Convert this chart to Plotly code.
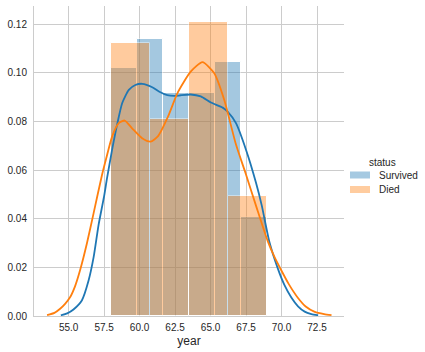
import plotly.graph_objects as go

# Histogram bins and densities
surv_edges = [58.0, 59.833, 61.667, 63.5, 65.333, 67.167, 69.0]
surv_density = [0.1019, 0.1139, 0.0919, 0.0919, 0.1044, 0.0409]
died_edges = [58.0, 60.75, 63.5, 66.25, 69.0]
died_density = [0.1122, 0.0811, 0.1211, 0.0493]

# KDE curves
surv_kde_x = [54.45, 54.9, 55.34, 55.93, 56.4, 56.76, 57.11, 57.5, 57.7, 58.06, 58.41, 58.77,
              59.24, 59.7, 60.18, 60.89, 61.36, 61.95, 62.5, 62.9, 63.6, 64.31, 65.02, 65.85,
              66.2, 66.79, 67.5, 68.21, 68.6, 69.15, 69.74, 70.2, 70.69, 71.16, 71.63, 72.1, 72.58]
surv_kde_y = [0.0003, 0.0011, 0.0027, 0.0064, 0.0145, 0.0242, 0.0375, 0.0493, 0.0565, 0.0683, 0.0786, 0.0875,
              0.093, 0.095, 0.0955, 0.0941, 0.0923, 0.0908, 0.0905, 0.0908, 0.0911, 0.0903, 0.0878, 0.0857,
              0.0841, 0.0793, 0.0683, 0.0546, 0.0456, 0.0303, 0.0195, 0.0128, 0.0076, 0.004, 0.0018, 0.0008, 0.0003]
died_kde_x = [53.48, 54.0, 54.4, 54.75, 55.11, 55.45, 55.81, 56.29, 56.76, 57.35, 57.7, 58.06,
              58.53, 58.95, 59.47, 60.18, 60.77, 61.3, 62.0, 62.66, 63.6, 64.43, 65.25, 65.96,
              66.79, 67.45, 68.21, 69.04, 69.5, 69.98, 70.5, 71.16, 71.7, 72.34, 73.0, 73.52]
died_kde_y = [0.0004, 0.0013, 0.003, 0.005, 0.0078, 0.0122, 0.0189, 0.0299, 0.0423, 0.058, 0.066, 0.0738,
              0.0793, 0.0804, 0.0772, 0.0731, 0.0717, 0.074, 0.082, 0.0916, 0.1005, 0.1044, 0.0999, 0.0889,
              0.0705, 0.059, 0.0452, 0.0306, 0.0243, 0.0188, 0.0132, 0.0074, 0.0039, 0.0017, 0.0008, 0.0004]

x_ticks = [55.0, 57.5, 60.0, 62.5, 65.0, 67.5, 70.0, 72.5]
y_ticks = [0.00, 0.02, 0.04, 0.06, 0.08, 0.10, 0.12]

legend_title = "status"
series_names = ["Survived", "Died"]

BLUE = "#1f77b4"
ORANGE = "#ff7f0e"
COLORS = [BLUE, ORANGE]


def centers(edges):
    return [(a + b) / 2 for a, b in zip(edges[:-1], edges[1:])]


def widths(edges):
    return [b - a for a, b in zip(edges[:-1], edges[1:])]


fig = go.Figure()
fig.add_trace(go.Bar(x=centers(surv_edges), y=surv_density, width=widths(surv_edges),
                     marker=dict(color=BLUE, line=dict(color="white", width=1)),
                     opacity=0.4, name=series_names[0], showlegend=False))
fig.add_trace(go.Scatter(x=surv_kde_x, y=surv_kde_y, mode="lines",
                         line=dict(color=BLUE, width=1.8, shape="spline", smoothing=0.6),
                         showlegend=False, hoverinfo="skip"))
fig.add_trace(go.Bar(x=centers(died_edges), y=died_density, width=widths(died_edges),
                     marker=dict(color=ORANGE, line=dict(color="white", width=1)),
                     opacity=0.4, name=series_names[1], showlegend=False))
fig.add_trace(go.Scatter(x=died_kde_x, y=died_kde_y, mode="lines",
                         line=dict(color=ORANGE, width=1.8, shape="spline", smoothing=0.6),
                         showlegend=False, hoverinfo="skip"))

# Manual legend (matplotlib-style patches), paper coordinates
L, W, T, H = 34, 310, 6, 310  # plot area in px


def px_x(p):
    return (p - L) / W


def px_y(p):
    return (T + H - p) / H


shapes = []
annotations = [dict(text=legend_title, x=px_x(382.5), y=px_y(162.5), xref="paper", yref="paper",
                    xanchor="center", yanchor="middle", showarrow=False, font=dict(size=10))]
for i, (name, col) in enumerate(zip(series_names, COLORS)):
    cy = 175 + i * 14.5
    shapes.append(dict(type="rect", xref="paper", yref="paper",
                       x0=px_x(350), x1=px_x(370), y0=px_y(cy + 3.5), y1=px_y(cy - 3.5),
                       fillcolor=col, opacity=0.4, line=dict(width=0)))
    annotations.append(dict(text=name, x=px_x(377), y=px_y(cy), xref="paper", yref="paper",
                            xanchor="left", yanchor="middle", showarrow=False, font=dict(size=10)))

fig.update_layout(
    width=425, height=352,
    margin=dict(l=34, r=81, t=6, b=36, autoexpand=False),
    paper_bgcolor="white", plot_bgcolor="white",
    barmode="overlay", bargap=0,
    font=dict(family="Liberation Sans, Arial, sans-serif", size=10, color="#262626"),
    showlegend=False,
    shapes=shapes, annotations=annotations,
)
fig.update_xaxes(range=[52.56, 74.4], tickvals=x_ticks, ticktext=[f"{v:.1f}" for v in x_ticks],
                 showgrid=True, gridcolor="#cccccc", gridwidth=1, zeroline=False,
                 showline=True, linecolor="#cccccc", linewidth=1, ticks="",
                 title=dict(text="year", standoff=4), ticklabelstandoff=2)
fig.update_yaxes(range=[0, 0.1275], tickvals=y_ticks, ticktext=[f"{v:.2f}" for v in y_ticks],
                 showgrid=True, gridcolor="#cccccc", gridwidth=1, zeroline=False,
                 showline=True, linecolor="#cccccc", linewidth=1, ticks="", ticklabelstandoff=4)

fig.write_html("out.html")
